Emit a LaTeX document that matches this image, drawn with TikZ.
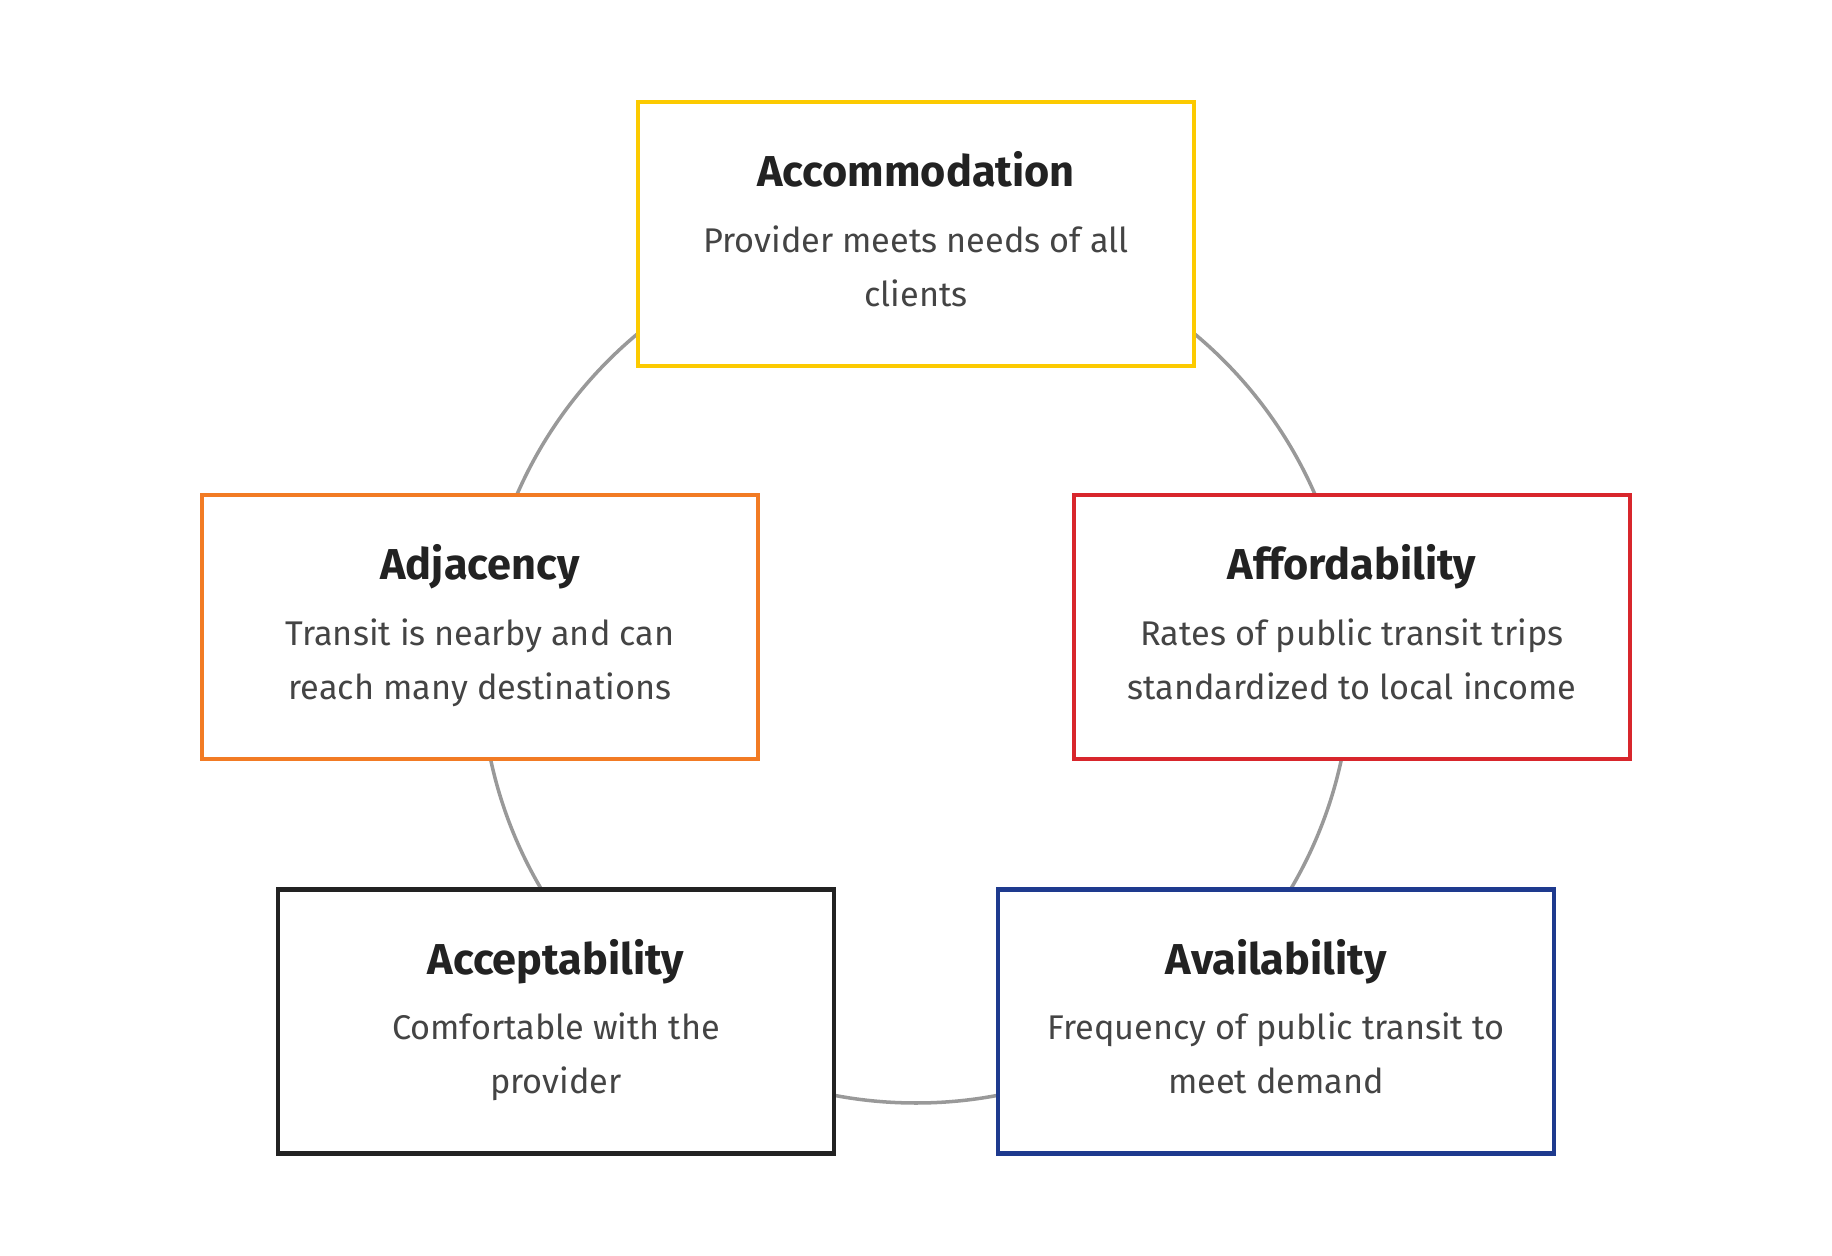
\documentclass[tikz,border=0pt]{standalone}
\usepackage{fontspec}
\setmainfont{Fira Sans}
\usepackage{tikz}
\usetikzlibrary{positioning}
\definecolor{RingGray}{RGB}{153,153,153}
\definecolor{TitleInk}{RGB}{34,34,34}
\definecolor{BodyInk}{RGB}{68,68,68}
\definecolor{AccYellow}{RGB}{252,202,0}
\definecolor{AdjOrange}{RGB}{242,123,36}
\definecolor{AffRed}{RGB}{216,38,44}
\definecolor{AcpBlack}{RGB}{34,34,34}
\definecolor{AvaBlue}{RGB}{30,58,142}

% title + two body lines, with struts so every card centres alike
\newcommand{\cardtext}[3]{\rule{0pt}{11pt}{\fontsize{12.3}{15.4}\selectfont\bfseries\color{TitleInk}#1}\\[3.3pt]
  #2\\#3\rule[-3.9pt]{0pt}{0pt}}

\begin{document}
\begin{tikzpicture}[
  font=\fontsize{9.75}{15.4}\selectfont,
  card/.style={draw, line width=1.25pt, fill=white, minimum width=5.56cm, minimum height=2.64cm,
    align=center, inner sep=0pt, text=BodyInk},
  ring/.style={draw=RingGray, line width=1pt}
]
  \useasboundingbox (0,0) rectangle (18.32,-12.56);

  % Ring behind the cards
  \coordinate (hub) at (9.16,-6.68);
  \draw[ring] (hub) circle (4.35);

  % Top card
  \node[card, draw=AccYellow] (acc) at (9.16,-2.34)
    {\cardtext{Accommodation}{Provider meets needs of all}{clients}};

  % Middle row
  \node[card, draw=AdjOrange] (adj) at (4.80,-6.27)
    {\cardtext{Adjacency}{Transit is nearby and can}{reach many destinations}};
  \node[card, draw=AffRed] (aff) at (13.52,-6.27)
    {\cardtext{Affordability}{Rates of public transit trips}{standardized to local income}};

  % Bottom row
  \node[card, draw=AcpBlack] (acp) at (5.56,-10.215)
    {\cardtext{Acceptability}{Comfortable with the}{provider}};
  \node[card, draw=AvaBlue] (ava) at (12.76,-10.215)
    {\cardtext{Availability}{Frequency of public transit to}{meet demand}};
\end{tikzpicture}
\end{document}
